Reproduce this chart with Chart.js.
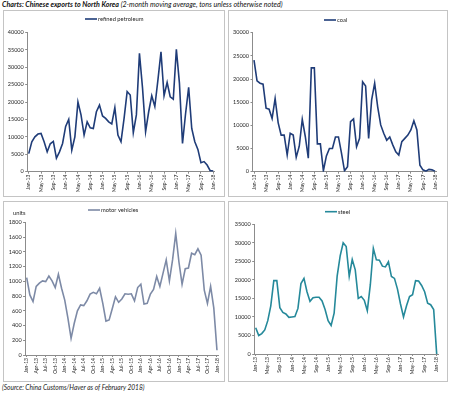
<!DOCTYPE html>
<html lang="en">
<head>
<meta charset="UTF-8">
<title>Chinese exports to North Korea</title>
<script src="https://cdn.jsdelivr.net/npm/chart.js"></script>
<style>
    body { margin: 0; width: 450px; height: 393px; background: #fff; position: relative; overflow: hidden; font-family: Lato, "Open Sans", sans-serif; }
    .title { position: absolute; left: 2px; top: 0px; font-size: 7.1px; font-style: italic; color: #111; white-space: nowrap; }
    .title b { font-weight: 700; }
    .source { position: absolute; left: 2px; top: 383px; font-size: 6.6px; font-style: italic; color: #222; white-space: nowrap; }
    .box { position: absolute; border: 1px solid #c4c4c4; }
    .box canvas { position: absolute; left: 0; top: 0; }
</style>
</head>
<body>
<div class="title"><b>Charts: Chinese exports to North Korea</b> (2-month moving average, tons unless otherwise noted)</div>

<div class="box" style="left:3px; top:10px; width:220px; height:185px;"><canvas id="petrol" width="220" height="185"></canvas></div>
<div class="box" style="left:228px; top:10px; width:218px; height:185px;"><canvas id="coal" width="218" height="185"></canvas></div>
<div class="box" style="left:3px; top:201px; width:220px; height:179px;"><canvas id="motor" width="220" height="179"></canvas></div>
<div class="box" style="left:228px; top:201px; width:218px; height:179px;"><canvas id="steel" width="218" height="179"></canvas></div>

<div class="source">(Source: China Customs/Haver as of February 2018)</div>

<script>
    // months, Jan-13 .. Jan-18
    const months = [
        'Jan-13', 'Feb-13', 'Mar-13', 'Apr-13', 'May-13', 'Jun-13', 'Jul-13', 'Aug-13', 'Sep-13', 'Oct-13', 'Nov-13', 'Dec-13',
        'Jan-14', 'Feb-14', 'Mar-14', 'Apr-14', 'May-14', 'Jun-14', 'Jul-14', 'Aug-14', 'Sep-14', 'Oct-14', 'Nov-14', 'Dec-14',
        'Jan-15', 'Feb-15', 'Mar-15', 'Apr-15', 'May-15', 'Jun-15', 'Jul-15', 'Aug-15', 'Sep-15', 'Oct-15', 'Nov-15', 'Dec-15',
        'Jan-16', 'Feb-16', 'Mar-16', 'Apr-16', 'May-16', 'Jun-16', 'Jul-16', 'Aug-16', 'Sep-16', 'Oct-16', 'Nov-16', 'Dec-16',
        'Jan-17', 'Feb-17', 'Mar-17', 'Apr-17', 'May-17', 'Jun-17', 'Jul-17', 'Aug-17', 'Sep-17', 'Oct-17', 'Nov-17', 'Dec-17',
        'Jan-18'
    ];

    const petroleum = [
        5200, 8600, 10000, 10800, 11000, 8600, 5700, 8000, 8700, 3900, 5700, 8100,
        13000, 15000, 6200, 10000, 20000, 16300, 10500, 14300, 12600, 12400, 17200, 19100,
        16000, 15300, 14300, 13700, 18400, 10500, 8600, 15300, 23000, 22000, 11200, 16300,
        34000, 24000, 11500, 17200, 21800, 18700, 26300, 34400, 21800, 25600, 21500, 20800,
        35100, 25400, 8100, 16700, 24200, 12400, 8600, 6400, 2600, 2900, 1900, 300,
        200
    ];

    const coal = [
        24100, 19600, 19100, 18900, 13700, 13500, 11500, 15800, 10600, 7900, 7900, 3600,
        8300, 7900, 3100, 5500, 11300, 7600, 2900, 22400, 22400, 6000, 6000, 200,
        3400, 5000, 5000, 7500, 7500, 4000, 200, 1100, 10800, 11400, 5400, 7200,
        19400, 18500, 7200, 15500, 19100, 14000, 10100, 8300, 6800, 7500, 5800, 4300,
        3600, 6500, 7200, 7900, 9000, 11000, 9000, 1400, 400, 100, 500, 400,
        100
    ];

    const vehicles = [
        1050, 815, 725, 930, 975, 1005, 995, 1070, 1005, 915, 1095, 905,
        745, 500, 225, 430, 600, 680, 670, 735, 825, 850, 830, 905,
        700, 460, 475, 630, 790, 715, 760, 830, 825, 830, 735, 915,
        960, 690, 700, 825, 890, 1065, 930, 1110, 1290, 1005, 1290, 1650,
        1265, 960, 1170, 1180, 1380, 1360, 1440, 1355, 880, 700, 930, 640,
        65
    ];

    const steel = [
        7100, 5000, 5500, 6500, 9000, 13000, 19800, 19800, 12500, 11200, 10800, 9900,
        10000, 10100, 12300, 19000, 20400, 16800, 14200, 15200, 15300, 15300, 14300, 12000,
        9000, 7700, 11000, 21000, 26500, 30000, 29000, 21000, 25500, 22700, 15000, 15500,
        14500, 11700, 18700, 28500, 25400, 25300, 23700, 23500, 24900, 20900, 20400, 17500,
        13500, 10000, 13000, 15500, 16000, 19800, 19700, 18500, 16800, 13700, 13300, 12000,
        0
    ];

    const axisGray = '#8c8c8c';
    const textColor = '#262626';
    const family = 'Lato, "Open Sans", sans-serif';

    // little legend: short line + series name
    const seriesKey = {
        id: 'seriesKey',
        afterDraw(chart, args, opts) {
            const ctx = chart.ctx;
            ctx.save();
            ctx.strokeStyle = opts.color;
            ctx.lineWidth = 1.6;
            ctx.beginPath();
            ctx.moveTo(opts.x, opts.y);
            ctx.lineTo(opts.x + 12, opts.y);
            ctx.stroke();
            ctx.fillStyle = textColor;
            ctx.font = '5.8px ' + family;
            ctx.textBaseline = 'middle';
            ctx.fillText(opts.text, opts.x + 13, opts.y + 0.3);
            if (opts.units) {
                ctx.fillText(opts.units, opts.ux, opts.uy);
            }
            ctx.restore();
        }
    };

    function makePanel(id, o) {
        return new Chart(document.getElementById(id), {
            type: 'line',
            data: {
                labels: months,
                datasets: [{
                    label: o.name,
                    data: o.values,
                    borderColor: o.color,
                    borderWidth: 1.6,
                    pointRadius: 0,
                    tension: 0,
                    fill: false
                }]
            },
            options: {
                responsive: false,
                animation: false,
                devicePixelRatio: 1,
                layout: { padding: { top: o.top, right: o.right, left: 0, bottom: 0 } },
                plugins: {
                    legend: { display: false },
                    tooltip: { enabled: false },
                    seriesKey: { text: o.name, color: o.color, x: o.keyX, y: o.keyY, units: o.units, ux: o.ux, uy: o.uy }
                },
                scales: {
                    x: {
                        offset: true,
                        grid: { drawOnChartArea: false, tickLength: 2, color: axisGray, offset: false },
                        border: { color: axisGray },
                        ticks: {
                            autoSkip: false,
                            minRotation: 90,
                            maxRotation: 90,
                            padding: 1,
                            color: textColor,
                            font: { family: family, size: 5 },
                            callback: (v, i) => (i % o.every === 0 ? months[i] : null)
                        },
                        afterFit: s => { s.height = o.xh; }
                    },
                    y: {
                        min: 0,
                        max: o.max,
                        grid: { drawOnChartArea: false, tickLength: 2, color: axisGray },
                        border: { color: axisGray },
                        ticks: {
                            stepSize: o.step,
                            padding: 1.5,
                            color: textColor,
                            font: { family: family, size: 5.5 },
                            callback: v => String(v)
                        },
                        afterFit: s => { s.width = o.left; }
                    }
                }
            },
            plugins: [seriesKey]
        });
    }

    makePanel('petrol', {
        name: 'refined petroleum', values: petroleum, color: '#1f3c78',
        max: 40000, step: 5000, every: 4,
        left: 23.2, right: 9.2, top: 21.3, xh: 24.3, keyX: 81, keyY: 8
    });

    makePanel('coal', {
        name: 'coal', values: coal, color: '#1f3c78',
        max: 30000, step: 5000, every: 4,
        left: 23.5, right: 10.5, top: 21.7, xh: 24.3, keyX: 95, keyY: 9
    });

    makePanel('motor', {
        name: 'motor vehicles', values: vehicles, color: '#7d8aa6',
        max: 1800, step: 200, every: 3,
        left: 21.1, right: 5.1, top: 20.3, xh: 26, keyX: 84, keyY: 8,
        units: 'units', ux: 9, uy: 11
    });

    makePanel('steel', {
        name: 'steel', values: steel, color: '#25899a',
        max: 35000, step: 5000, every: 4,
        left: 25.2, right: 8.8, top: 22.3, xh: 27, keyX: 96, keyY: 9.7
    });
</script>
</body>
</html>
